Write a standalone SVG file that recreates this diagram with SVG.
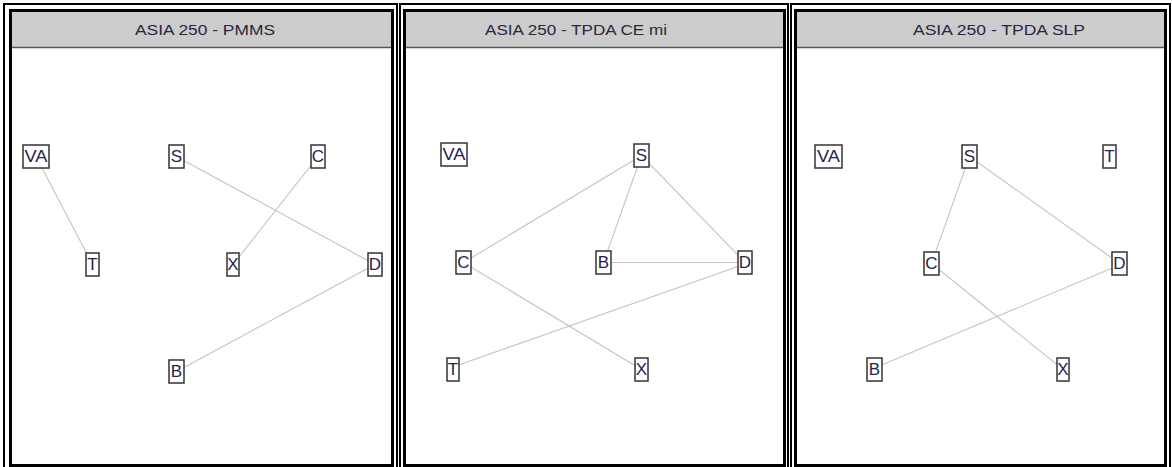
<svg xmlns="http://www.w3.org/2000/svg" width="1172" height="467" viewBox="0 0 1172 467">
  <style>
    .outer { fill: none; stroke: #000; stroke-width: 2; }
    .inner { fill: #fff; stroke: #000; stroke-width: 3; }
    .hdr { fill: #cccccc; }
    .hdrline { stroke: #555; stroke-width: 1.5; }
    .title { font-family: "Liberation Sans", Arial, sans-serif; font-size: 15px; fill: #2a2540; }
    .edge { stroke: #c4c4c4; stroke-width: 1.1; fill: none; }
    .box { fill: #fff; stroke: #333; stroke-width: 1.5; }
    .lbl { font-family: "Liberation Sans", Arial, sans-serif; font-size: 17px; fill: #25244a; text-anchor: middle; }
  </style>
  <rect x="0" y="0" width="1172" height="467" fill="#fff"/>

  <!-- Panel 1: PMMS -->
  <g id="panel-pmms">
    <rect class="outer" x="4" y="4" width="393" height="470"/>
    <rect class="inner" x="10.5" y="10.5" width="382" height="455"/>
    <rect class="hdr" x="12" y="12" width="379" height="35"/>
    <line class="hdrline" x1="12" y1="47.5" x2="391" y2="47.5"/>
    <text class="title" x="135" y="35" textLength="140" lengthAdjust="spacingAndGlyphs">ASIA 250 - PMMS</text>
  </g>

  <!-- Panel 2: TPDA CE mi -->
  <g id="panel-tpda-ce">
    <rect class="outer" x="400" y="4" width="388" height="470"/>
    <rect class="inner" x="404.5" y="10.5" width="380" height="455"/>
    <rect class="hdr" x="406" y="12" width="377" height="35"/>
    <line class="hdrline" x1="406" y1="47.5" x2="783" y2="47.5"/>
    <text class="title" x="485" y="35" textLength="182" lengthAdjust="spacingAndGlyphs">ASIA 250 - TPDA CE mi</text>
  </g>

  <!-- Panel 3: TPDA SLP -->
  <g id="panel-tpda-slp">
    <rect class="outer" x="791" y="4" width="379" height="470"/>
    <rect class="inner" x="795.5" y="10.5" width="370" height="455"/>
    <rect class="hdr" x="797" y="12" width="367" height="35"/>
    <line class="hdrline" x1="797" y1="47.5" x2="1164" y2="47.5"/>
    <text class="title" x="913" y="35" textLength="172" lengthAdjust="spacingAndGlyphs">ASIA 250 - TPDA SLP</text>
  </g>

  <!-- Connectors (centre to centre, boxes drawn on top) -->
  <g id="connectors">
    <!-- PMMS -->
    <line class="edge" x1="36" y1="156.5" x2="92.5" y2="264.5"/>
    <line class="edge" x1="176.5" y1="156.5" x2="375" y2="264.5"/>
    <line class="edge" x1="318" y1="156.5" x2="233" y2="264.5"/>
    <line class="edge" x1="375" y1="264.5" x2="176.5" y2="371.5"/>
    <!-- TPDA CE mi -->
    <line class="edge" x1="641.5" y1="155.5" x2="463.5" y2="262.5"/>
    <line class="edge" x1="641.5" y1="155.5" x2="603.5" y2="262.5"/>
    <line class="edge" x1="641.5" y1="155.5" x2="745" y2="262.5"/>
    <line class="edge" x1="603.5" y1="262.5" x2="745" y2="262.5"/>
    <line class="edge" x1="463.5" y1="262.5" x2="641.5" y2="369.5"/>
    <line class="edge" x1="453" y1="367" x2="745" y2="264"/>
    <!-- TPDA SLP -->
    <line class="edge" x1="969.5" y1="156.5" x2="931.5" y2="263.5"/>
    <line class="edge" x1="969.5" y1="156.5" x2="1119.5" y2="263.5"/>
    <line class="edge" x1="931.5" y1="263.5" x2="1063" y2="369.5"/>
    <line class="edge" x1="1119.5" y1="265" x2="874.5" y2="368"/>
  </g>

  <!-- PMMS nodes -->
  <g id="p1-VA"><rect class="box" x="23" y="145" width="26" height="23"/><text class="lbl" x="36" y="162" textLength="23" lengthAdjust="spacingAndGlyphs">VA</text></g>
  <g id="p1-S"><rect class="box" x="169" y="145" width="15" height="23"/><text class="lbl" x="176.5" y="162">S</text></g>
  <g id="p1-C"><rect class="box" x="311" y="145" width="14" height="23"/><text class="lbl" x="318" y="162">C</text></g>
  <g id="p1-T"><rect class="box" x="86" y="253" width="13" height="23"/><text class="lbl" x="92.5" y="270">T</text></g>
  <g id="p1-X"><rect class="box" x="227" y="253" width="12" height="23"/><text class="lbl" x="233" y="270">X</text></g>
  <g id="p1-D"><rect class="box" x="368" y="253" width="14" height="23"/><text class="lbl" x="375" y="270">D</text></g>
  <g id="p1-B"><rect class="box" x="169" y="360" width="15" height="23"/><text class="lbl" x="176.5" y="377">B</text></g>

  <!-- TPDA CE mi nodes -->
  <g id="p2-VA"><rect class="box" x="441" y="143" width="26" height="23"/><text class="lbl" x="454" y="160" textLength="23" lengthAdjust="spacingAndGlyphs">VA</text></g>
  <g id="p2-S"><rect class="box" x="634" y="144" width="15" height="23"/><text class="lbl" x="641.5" y="161">S</text></g>
  <g id="p2-C"><rect class="box" x="456" y="251" width="15" height="23"/><text class="lbl" x="463.5" y="268">C</text></g>
  <g id="p2-B"><rect class="box" x="596" y="251" width="15" height="23"/><text class="lbl" x="603.5" y="268">B</text></g>
  <g id="p2-D"><rect class="box" x="738" y="251" width="14" height="23"/><text class="lbl" x="745" y="268">D</text></g>
  <g id="p2-T"><rect class="box" x="447" y="358" width="12" height="23"/><text class="lbl" x="453" y="375">T</text></g>
  <g id="p2-X"><rect class="box" x="635" y="358" width="13" height="23"/><text class="lbl" x="641.5" y="375">X</text></g>

  <!-- TPDA SLP nodes -->
  <g id="p3-VA"><rect class="box" x="815" y="145" width="27" height="23"/><text class="lbl" x="828.5" y="162" textLength="23" lengthAdjust="spacingAndGlyphs">VA</text></g>
  <g id="p3-S"><rect class="box" x="962" y="145" width="15" height="23"/><text class="lbl" x="969.5" y="162">S</text></g>
  <g id="p3-T"><rect class="box" x="1103" y="145" width="13" height="23"/><text class="lbl" x="1109.5" y="162">T</text></g>
  <g id="p3-C"><rect class="box" x="924" y="252" width="15" height="23"/><text class="lbl" x="931.5" y="269">C</text></g>
  <g id="p3-D"><rect class="box" x="1112" y="252" width="15" height="23"/><text class="lbl" x="1119.5" y="269">D</text></g>
  <g id="p3-B"><rect class="box" x="867" y="358" width="15" height="23"/><text class="lbl" x="874.5" y="375">B</text></g>
  <g id="p3-X"><rect class="box" x="1057" y="358" width="12" height="23"/><text class="lbl" x="1063" y="375">X</text></g>
</svg>
